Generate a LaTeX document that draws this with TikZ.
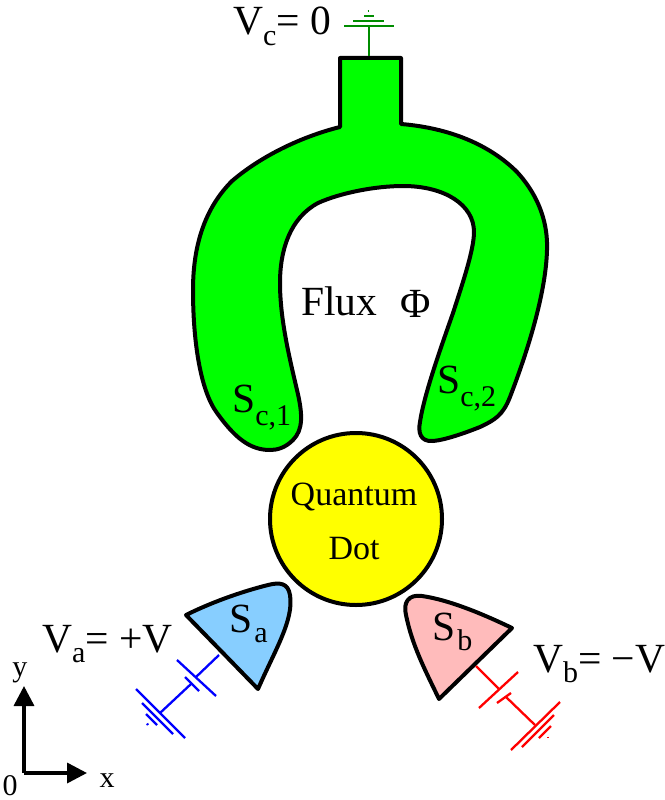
\documentclass[tikz,border=0pt]{standalone}
\usepackage{fontspec}
\setmainfont{Liberation Serif}
\usetikzlibrary{arrows.meta}
\newcommand{\lowsub}[1]{\raisebox{-10.5pt}{\fontsize{30}{30}\selectfont #1}}
\newcommand{\lowsubS}[1]{\raisebox{-13.5pt}{\fontsize{30}{30}\selectfont #1}}
\tikzset{
  x=1pt,y=-1pt,
  shapeline/.style={draw=black,line width=4pt,line join=round},
  lbl/.style={inner sep=0pt,anchor=base west,font=\fontsize{41.5}{41.5}\selectfont},
  dotlbl/.style={inner sep=0pt,anchor=base,font=\fontsize{34}{34}\selectfont},
  wire/.style={line width=2.3pt},
  axisline/.style={line width=3.5pt,-{Triangle[length=20pt,width=20pt]}},
  axislbl/.style={inner sep=0pt,anchor=base,font=\fontsize{30}{30}\selectfont},
}
\definecolor{cgreen}{RGB}{0,255,0}
\definecolor{cyellow}{RGB}{255,255,0}
\definecolor{cblue}{RGB}{135,206,255}
\definecolor{cpink}{RGB}{255,187,187}
\definecolor{gwire}{RGB}{0,140,0}
\begin{document}
\begin{tikzpicture}
\useasboundingbox (0,0) rectangle (664,800);
% superconductor
\draw[shapeline,fill=cgreen] (401,124)
  .. controls (450,128) and (490,145) .. (517,172)
  .. controls (540,197) and (548,225) .. (547,250)
  .. controls (546,290) and (530,345) .. (510,397)
  .. controls (503,415) and (495,420) .. (480,427)
  .. controls (465,433) and (445,440) .. (433,441)
  .. controls (420,442) and (418,432) .. (420,422)
  .. controls (424,395) and (440,350) .. (453,313)
  .. controls (462,285) and (474,250) .. (474,232)
  .. controls (474,205) and (445,186) .. (403,186)
  .. controls (375,186) and (340,193) .. (318,203)
  .. controls (290,218) and (280,250) .. (280,283)
  .. controls (280,320) and (290,360) .. (297,390)
  .. controls (303,415) and (303,430) .. (293,440)
  .. controls (285,448) and (277,450) .. (270,450)
  .. controls (250,450) and (235,438) .. (217,413)
  .. controls (200,390) and (193,340) .. (193,290)
  .. controls (193,245) and (205,208) .. (232,181)
  .. controls (260,157) and (300,137) .. (340,127)
  -- (340,58) -- (401,58) -- cycle;
% dot
\node[shapeline,fill=cyellow,circle,minimum size=172pt,inner sep=0pt] (qd) at (356,519) {};
\node[dotlbl] (q1) at (354,505) {Quantum};
\node[dotlbl] (q2) at (354,559) {Dot};
% leads
\draw[shapeline,fill=cblue] (186,615) -- (258,689)
  .. controls (275,650) and (294,620) .. (290,595)
  .. controls (288,583) and (280,582) .. (268,585)
  .. controls (240,592) and (210,603) .. (186,615) -- cycle;
\draw[shapeline,fill=cpink] (439,699) -- (512,628)
  .. controls (485,615) and (450,600) .. (422,596)
  .. controls (408,594) and (403,603) .. (406,615)
  .. controls (412,645) and (425,670) .. (439,699) -- cycle;
% blue circuit
\begin{scope}[draw=blue,wire]
\coordinate (ba) at (219,655); \coordinate (bb) at (196,677);
\coordinate (bc) at (191,684); \coordinate (bd) at (160,713);
\draw (ba) -- (bb); \draw (bc) -- (bd);
\coordinate (bp1) at (177,660); \coordinate (bp2) at (216,696);
\draw (bp1) -- (bp2);
\coordinate (bp3) at (185,677); \coordinate (bp4) at (199,691);
\draw (bp3) -- (bp4);
\coordinate (bg1) at (136,689); \coordinate (bg2) at (185,738);
\draw (bg1) -- (bg2);
\coordinate (bg3) at (142,703); \coordinate (bg4) at (173,734);
\draw (bg3) -- (bg4);
\coordinate (bg5) at (146,714); \coordinate (bg6) at (157,725);
\draw (bg5) -- (bg6);
\coordinate (bg7) at (147,723.5); \coordinate (bg8) at (148,725);
\draw (bg7) -- (bg8);
\end{scope}
% red circuit
\begin{scope}[draw=red,wire]
\coordinate (ra) at (476,666); \coordinate (rb) at (499,689);
\coordinate (rc) at (506,697); \coordinate (rd) at (535,725);
\draw (ra) -- (rb); \draw (rc) -- (rd);
\coordinate (rp1) at (518,672); \coordinate (rp2) at (479,708);
\draw (rp1) -- (rp2);
\coordinate (rp3) at (511,693); \coordinate (rp4) at (497,703);
\draw (rp3) -- (rp4);
\coordinate (rg1) at (560,702); \coordinate (rg2) at (511,750);
\draw (rg1) -- (rg2);
\coordinate (rg3) at (554,715); \coordinate (rg4) at (522,747);
\draw (rg3) -- (rg4);
\coordinate (rg5) at (551,726); \coordinate (rg6) at (539,738);
\draw (rg5) -- (rg6);
\coordinate (rg7) at (548,736.5); \coordinate (rg8) at (548,738);
\draw (rg7) -- (rg8);
\end{scope}
% green ground
\begin{scope}[draw=gwire,wire]
\coordinate (ga) at (369,27); \coordinate (gb) at (369,56);
\draw (ga) -- (gb);
\coordinate (gp1) at (344,26); \coordinate (gp2) at (394,26);
\draw (gp1) -- (gp2);
\coordinate (gp3) at (353,21); \coordinate (gp4) at (384,21);
\draw (gp3) -- (gp4);
\coordinate (gp5) at (364,16); \coordinate (gp6) at (374,16);
\draw (gp5) -- (gp6);
\coordinate (gp7) at (367.5,11); \coordinate (gp8) at (369,11);
\draw (gp7) -- (gp8);
\end{scope}
% axes
\coordinate (o) at (24,773); \coordinate (ay) at (24,686); \coordinate (ax) at (87,773);
\draw[axisline] (o) -- (ay);
\draw[axisline] (o) -- (ax);
\node[axislbl] (ylbl) at (20,676) {y};
\node[axislbl] (xlbl) at (107,787) {x};
\node[axislbl] (zlbl) at (10,795) {0};
% labels
\node[lbl] (vc) at (233,35) {V\lowsub{c}= 0};
\node[lbl] (flux) at (301,315) {Flux};
\node[lbl] (phi) at (400,317) {Φ};
\node[lbl] (sc1) at (232,412) {S\lowsubS{c,1}};
\node[lbl] (sc2) at (437,393) {S\lowsubS{c,2}};
\node[lbl] (sa) at (229,632) {S\kern2pt\lowsub{a}};
\node[lbl] (sb) at (432,640) {S\kern2pt\lowsub{b}};
\node[lbl] (va) at (42,652) {V\lowsub{a}= +V};
\node[lbl] (vb) at (533,672) {V\lowsub{b}= −V};
\end{tikzpicture}
\end{document}
